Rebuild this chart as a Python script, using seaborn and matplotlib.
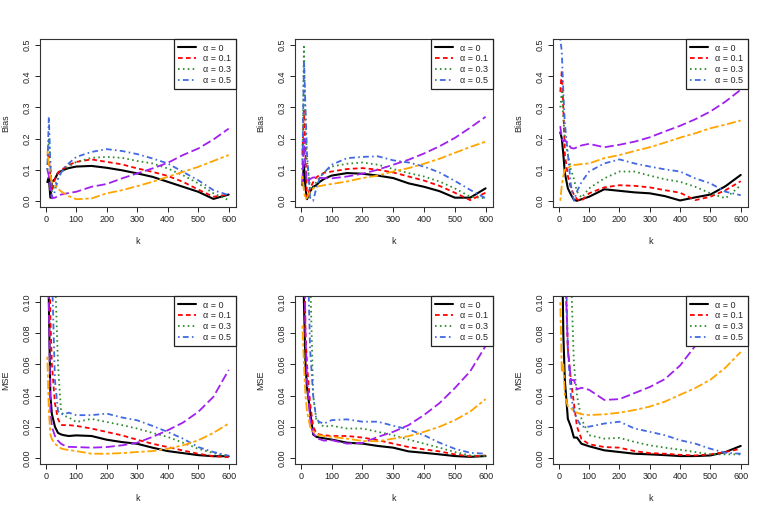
import numpy as np
import pandas as pd
import seaborn as sns
import matplotlib.pyplot as plt
from matplotlib.lines import Line2D

sns.set_style("ticks")
plt.rcParams['font.family'] = ['Liberation Sans', 'DejaVu Sans']

# number of upper order statistics
k = [5, 10, 15, 20, 30, 40, 50, 60, 75, 100, 150, 200, 250, 300, 350, 400, 450, 500, 550, 600]

labels = ['α = 0', 'α = 0.1', 'α = 0.3', 'α = 0.5']

# ---- Bias, setting 1
bias1_a0 = [0.06, 0.075, 0.01, 0.06, 0.07, 0.09, 0.095, 0.1, 0.105, 0.11, 0.112, 0.106, 0.098, 0.088, 0.077, 0.061, 0.045, 0.029, 0.006, 0.02]
bias1_a1 = [0.15, 0.14, 0.08, 0.03, 0.07, 0.09, 0.1, 0.105, 0.115, 0.125, 0.133, 0.125, 0.117, 0.104, 0.093, 0.08, 0.061, 0.036, 0.013, 0.02]
bias1_a3 = [0.1, 0.2, 0.12, 0.03, 0.05, 0.07, 0.09, 0.1, 0.11, 0.125, 0.138, 0.141, 0.138, 0.128, 0.12, 0.104, 0.082, 0.056, 0.024, 0.002]
bias1_a5 = [0.1, 0.27, 0.12, 0.01, 0.03, 0.07, 0.09, 0.105, 0.12, 0.141, 0.157, 0.166, 0.16, 0.15, 0.136, 0.12, 0.093, 0.066, 0.034, 0.018]
bias1_p = [0.1, 0.08, 0.03, 0.008, 0.01, 0.015, 0.02, 0.022, 0.025, 0.029, 0.045, 0.054, 0.072, 0.088, 0.104, 0.122, 0.147, 0.168, 0.197, 0.232]
bias1_o = [0.16, 0.12, 0.08, 0.06, 0.05, 0.04, 0.03, 0.024, 0.015, 0.005, 0.0075, 0.024, 0.034, 0.047, 0.061, 0.077, 0.093, 0.109, 0.128, 0.147]

# ---- Bias, setting 2
bias2_a0 = [0.05, 0.116, 0.04, 0.005, 0.03, 0.045, 0.05, 0.06, 0.07, 0.081, 0.089, 0.087, 0.081, 0.073, 0.056, 0.045, 0.031, 0.01, 0.01, 0.04]
bias2_a1 = [0.15, 0.289, 0.15, 0.01, 0.04, 0.06, 0.075, 0.082, 0.09, 0.094, 0.102, 0.105, 0.1, 0.091, 0.078, 0.065, 0.048, 0.026, 0.002, 0.026]
bias2_a3 = [0.1, 0.495, 0.25, 0.13, 0.04, 0.04, 0.06, 0.075, 0.09, 0.11, 0.119, 0.123, 0.116, 0.102, 0.089, 0.078, 0.062, 0.04, 0.013, 0.008]
bias2_a5 = [0.1, 0.45, 0.3, 0.15, 0.01, 0.0, 0.04, 0.07, 0.09, 0.116, 0.137, 0.141, 0.143, 0.13, 0.123, 0.11, 0.091, 0.064, 0.035, 0.008]
bias2_p = [0.06, 0.2, 0.1, 0.06, 0.07, 0.075, 0.075, 0.074, 0.073, 0.072, 0.078, 0.087, 0.1, 0.116, 0.132, 0.152, 0.175, 0.202, 0.235, 0.27]
bias2_o = [0.08, 0.03, 0.005, 0.01, 0.03, 0.04, 0.045, 0.047, 0.05, 0.054, 0.062, 0.073, 0.081, 0.094, 0.105, 0.119, 0.135, 0.154, 0.173, 0.19]

# ---- Bias, setting 3
bias3_a0 = [0.22, 0.2, 0.15, 0.09, 0.04, 0.02, 0.003, 0.0, 0.005, 0.013, 0.037, 0.032, 0.027, 0.024, 0.015, 0.001, 0.011, 0.02, 0.047, 0.083]
bias3_a1 = [0.35, 0.42, 0.3, 0.15, 0.08, 0.04, 0.02, 0.005, 0.0, 0.024, 0.043, 0.05, 0.048, 0.043, 0.034, 0.026, 0.002, 0.013, 0.034, 0.063]
bias3_a3 = [0.3, 0.35, 0.27, 0.2, 0.15, 0.1, 0.07, 0.03, 0.01, 0.04, 0.072, 0.094, 0.094, 0.081, 0.069, 0.061, 0.045, 0.024, 0.008, 0.05]
bias3_a5 = [0.52, 0.48, 0.35, 0.25, 0.15, 0.05, 0.0, 0.03, 0.06, 0.094, 0.12, 0.133, 0.12, 0.11, 0.101, 0.094, 0.072, 0.056, 0.029, 0.018]
bias3_p = [0.24, 0.2, 0.19, 0.195, 0.185, 0.17, 0.168, 0.172, 0.178, 0.183, 0.172, 0.18, 0.19, 0.204, 0.223, 0.241, 0.262, 0.287, 0.319, 0.357]
bias3_o = [0.0, 0.05, 0.08, 0.1, 0.105, 0.112, 0.115, 0.116, 0.118, 0.12, 0.137, 0.147, 0.16, 0.172, 0.187, 0.203, 0.217, 0.233, 0.245, 0.258]

# ---- MSE, setting 1
mse1_a0 = [0.2, 0.1, 0.04, 0.028, 0.02, 0.016, 0.015, 0.0145, 0.014, 0.0144, 0.014, 0.0116, 0.0101, 0.009, 0.0065, 0.0043, 0.003, 0.0017, 0.001, 0.001]
mse1_a1 = [0.25, 0.15, 0.09, 0.06, 0.035, 0.025, 0.021, 0.021, 0.021, 0.0205, 0.0188, 0.0166, 0.0144, 0.0116, 0.009, 0.0069, 0.0047, 0.0026, 0.001, 0.0004]
mse1_a3 = [0.4, 0.3, 0.25, 0.2, 0.12, 0.06, 0.03, 0.027, 0.026, 0.023, 0.025, 0.023, 0.021, 0.0188, 0.016, 0.0134, 0.0097, 0.0058, 0.003, 0.0009]
mse1_a5 = [0.35, 0.25, 0.18, 0.12, 0.05, 0.03, 0.028, 0.028, 0.029, 0.0274, 0.0274, 0.0284, 0.0259, 0.0241, 0.0205, 0.0166, 0.0123, 0.0069, 0.0037, 0.0013]
mse1_p = [0.3, 0.1, 0.03, 0.02, 0.014, 0.011, 0.009, 0.008, 0.007, 0.0069, 0.0065, 0.0069, 0.008, 0.0097, 0.0134, 0.0177, 0.0226, 0.0295, 0.0392, 0.0565]
mse1_o = [0.065, 0.03, 0.015, 0.012, 0.009, 0.0075, 0.006, 0.0055, 0.005, 0.0043, 0.0026, 0.0026, 0.003, 0.0037, 0.0043, 0.0058, 0.008, 0.0112, 0.016, 0.022]

# ---- MSE, setting 2
mse2_a0 = [0.2, 0.1, 0.06, 0.045, 0.03, 0.015, 0.0135, 0.013, 0.0125, 0.0117, 0.0097, 0.0091, 0.0076, 0.0065, 0.0041, 0.0032, 0.0022, 0.0011, 0.0006, 0.0011]
mse2_a1 = [0.3, 0.15, 0.08, 0.06, 0.035, 0.02, 0.016, 0.015, 0.0145, 0.014, 0.014, 0.013, 0.0113, 0.0091, 0.0069, 0.0054, 0.0041, 0.0022, 0.0009, 0.0015]
mse2_a3 = [0.5, 0.35, 0.25, 0.18, 0.12, 0.04, 0.025, 0.022, 0.02, 0.0206, 0.0188, 0.0188, 0.0167, 0.0145, 0.0117, 0.0091, 0.0065, 0.0037, 0.0015, 0.0011]
mse2_a5 = [0.4, 0.3, 0.2, 0.15, 0.07, 0.04, 0.025, 0.023, 0.022, 0.0242, 0.0247, 0.0232, 0.0232, 0.0206, 0.0182, 0.0145, 0.0097, 0.0058, 0.0032, 0.0026]
mse2_p = [0.3, 0.15, 0.08, 0.05, 0.025, 0.016, 0.013, 0.012, 0.011, 0.0113, 0.0091, 0.0095, 0.0134, 0.0167, 0.021, 0.0275, 0.0351, 0.0448, 0.0556, 0.0719]
mse2_o = [0.085, 0.06, 0.04, 0.03, 0.02, 0.017, 0.015, 0.0145, 0.014, 0.0134, 0.0123, 0.0108, 0.0106, 0.0123, 0.0139, 0.0167, 0.0199, 0.0242, 0.0297, 0.0377]

# ---- MSE, setting 3
mse3_a0 = [0.3, 0.15, 0.08, 0.05, 0.025, 0.02, 0.013, 0.013, 0.009, 0.0074, 0.0048, 0.0037, 0.0026, 0.0022, 0.0017, 0.0011, 0.0011, 0.0015, 0.0037, 0.0076]
mse3_a1 = [0.4, 0.25, 0.18, 0.13, 0.07, 0.05, 0.035, 0.02, 0.012, 0.0087, 0.0069, 0.0065, 0.0043, 0.003, 0.0026, 0.0019, 0.0015, 0.0022, 0.0037, 0.0058]
mse3_a3 = [0.5, 0.4, 0.3, 0.25, 0.18, 0.12, 0.06, 0.04, 0.025, 0.0145, 0.0123, 0.0128, 0.0102, 0.008, 0.0065, 0.0052, 0.0037, 0.0022, 0.0022, 0.0022]
mse3_a5 = [0.45, 0.3, 0.2, 0.15, 0.07, 0.04, 0.03, 0.025, 0.02, 0.02, 0.022, 0.0232, 0.0188, 0.0167, 0.0145, 0.0113, 0.0091, 0.0058, 0.0032, 0.0026]
mse3_p = [0.4, 0.3, 0.2, 0.13, 0.07, 0.05, 0.05, 0.044, 0.045, 0.0437, 0.0372, 0.0377, 0.0416, 0.0455, 0.0506, 0.0593, 0.0719, 0.0859, 0.103, 0.125]
mse3_o = [0.1, 0.055, 0.06, 0.04, 0.033, 0.032, 0.03, 0.029, 0.028, 0.0275, 0.0279, 0.029, 0.0307, 0.0329, 0.0361, 0.0405, 0.0448, 0.0502, 0.058, 0.068]

colors = ['black', 'red', '#2E8B2E', 'royalblue', '#A020F0', 'orange']
lstyles = ['-', (0, (2.6, 1.8)), (0, (0.9, 1.8)), (0, (0.9, 1.8, 3.2, 1.8)),
           (0, (5, 2)), (0, (1.8, 1.5, 5, 1.5))]
lwidths = [1.5, 1.3, 1.3, 1.3, 1.3, 1.3]

panels = [
    ('Bias', [bias1_a0, bias1_a1, bias1_a3, bias1_a5, bias1_p, bias1_o]),
    ('Bias', [bias2_a0, bias2_a1, bias2_a3, bias2_a5, bias2_p, bias2_o]),
    ('Bias', [bias3_a0, bias3_a1, bias3_a3, bias3_a5, bias3_p, bias3_o]),
    ('MSE', [mse1_a0, mse1_a1, mse1_a3, mse1_a5, mse1_p, mse1_o]),
    ('MSE', [mse2_a0, mse2_a1, mse2_a3, mse2_a5, mse2_p, mse2_o]),
    ('MSE', [mse3_a0, mse3_a1, mse3_a3, mse3_a5, mse3_p, mse3_o]),
]

# axes boxes in pixels: (left, right)
W, H = 770, 514
cols = [(40, 236), (295, 493), (553, 748)]
rows = [(39, 207), (296, 464)]

fig = plt.figure(figsize=(W / 100, H / 100), dpi=100)

for i, (ylab, series) in enumerate(panels):
    r, c = divmod(i, 3)
    x0, x1 = cols[c]
    y0, y1 = rows[r]
    ax = fig.add_axes([x0 / W, 1 - y1 / H, (x1 - x0) / W, (y1 - y0) / H])
    for j, vals in enumerate(series):
        sns.lineplot(x=k, y=vals, ax=ax, color=colors[j], linestyle=lstyles[j],
                     linewidth=lwidths[j], estimator=None, sort=False)
    ax.set_xlim(-19, 624)
    ax.set_xticks([0, 100, 200, 300, 400, 500, 600])
    if ylab == 'Bias':
        ax.set_ylim(-0.02, 0.52)
        ax.set_yticks([0.0, 0.1, 0.2, 0.3, 0.4, 0.5])
        ax.set_yticklabels(['0.0', '0.1', '0.2', '0.3', '0.4', '0.5'])
    else:
        ax.set_ylim(-0.004, 0.104)
        ax.set_yticks([0.0, 0.02, 0.04, 0.06, 0.08, 0.10])
        ax.set_yticklabels(['0.00', '0.02', '0.04', '0.06', '0.08', '0.10'])
    ax.tick_params(labelsize=6.5, length=3.5, width=0.7, pad=2.5, colors='#222222')
    for lab in ax.get_yticklabels():
        lab.set_rotation(90)
        lab.set_va('center')
    for s in ax.spines.values():
        s.set_visible(True)
        s.set_linewidth(0.8)
        s.set_color('#333333')
    ax.set_xlabel('k', fontsize=6.5, labelpad=9)
    ax.set_ylabel(ylab, fontsize=6.5, labelpad=9)
    handles = [Line2D([0], [0], color=colors[j], linestyle=lstyles[j], linewidth=lwidths[j])
               for j in range(4)]
    leg = ax.legend(handles, labels, loc='upper right', borderaxespad=0, fontsize=6.5,
                    handlelength=2.0, handletextpad=0.8, labelspacing=0.2, borderpad=0.5,
                    fancybox=False, framealpha=1)
    leg.get_frame().set_edgecolor('#222222')
    leg.get_frame().set_linewidth(0.9)

fig.savefig('out.png', dpi=100)
